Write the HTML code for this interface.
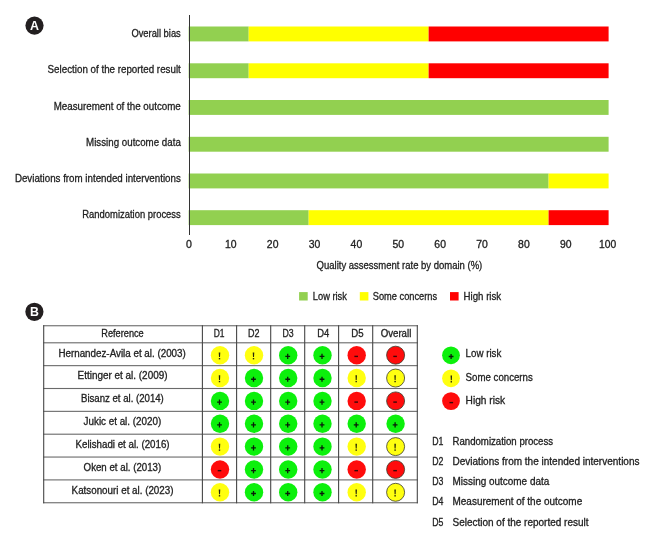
<!DOCTYPE html>
<html><head><meta charset="utf-8"><title>Risk of bias</title>
<style>html,body{margin:0;padding:0;background:#fff}svg{display:block;will-change:transform}text{font-family:"Liberation Sans",sans-serif}</style>
</head><body>
<svg width="651" height="535" viewBox="0 0 651 535">
<rect width="651" height="535" fill="#fff"/>
<rect x="188.7" y="26.5" width="60.00" height="14.9" fill="#92d050"/>
<rect x="248.70" y="26.5" width="179.93" height="14.9" fill="#ffff00"/>
<rect x="428.63" y="26.5" width="179.97" height="14.9" fill="#ff0000"/>
<text x="131.40" y="37.00" font-size="10.9" text-anchor="start" textLength="49.40" lengthAdjust="spacingAndGlyphs" fill="#222" stroke="#222" stroke-width="0.3">Overall bias</text>
<rect x="188.7" y="63.3" width="60.00" height="14.9" fill="#92d050"/>
<rect x="248.70" y="63.3" width="179.93" height="14.9" fill="#ffff00"/>
<rect x="428.63" y="63.3" width="179.97" height="14.9" fill="#ff0000"/>
<text x="47.60" y="73.40" font-size="10.9" text-anchor="start" textLength="133.20" lengthAdjust="spacingAndGlyphs" fill="#222" stroke="#222" stroke-width="0.3">Selection of the reported result</text>
<rect x="188.7" y="100.0" width="419.90" height="14.9" fill="#92d050"/>
<text x="53.70" y="109.70" font-size="10.9" text-anchor="start" textLength="127.10" lengthAdjust="spacingAndGlyphs" fill="#222" stroke="#222" stroke-width="0.3">Measurement of the outcome</text>
<rect x="188.7" y="136.8" width="419.90" height="14.9" fill="#92d050"/>
<text x="86.10" y="145.90" font-size="10.9" text-anchor="start" textLength="94.70" lengthAdjust="spacingAndGlyphs" fill="#222" stroke="#222" stroke-width="0.3">Missing outcome data</text>
<rect x="188.7" y="173.5" width="359.90" height="14.9" fill="#92d050"/>
<rect x="548.60" y="173.5" width="60.00" height="14.9" fill="#ffff00"/>
<text x="14.90" y="182.20" font-size="10.9" text-anchor="start" textLength="165.90" lengthAdjust="spacingAndGlyphs" fill="#222" stroke="#222" stroke-width="0.3">Deviations from intended interventions</text>
<rect x="188.7" y="210.2" width="119.97" height="14.9" fill="#92d050"/>
<rect x="308.67" y="210.2" width="239.93" height="14.9" fill="#ffff00"/>
<rect x="548.60" y="210.2" width="60.00" height="14.9" fill="#ff0000"/>
<text x="82.30" y="218.30" font-size="10.9" text-anchor="start" textLength="98.50" lengthAdjust="spacingAndGlyphs" fill="#222" stroke="#222" stroke-width="0.3">Randomization process</text>
<rect x="189" y="15" width="1" height="220" fill="#333"/>
<text x="188.95" y="248.00" font-size="10.2" text-anchor="middle" textLength="5.90" lengthAdjust="spacingAndGlyphs" fill="#222" stroke="#222" stroke-width="0.3">0</text>
<text x="230.82" y="248.00" font-size="10.2" text-anchor="middle" textLength="11.60" lengthAdjust="spacingAndGlyphs" fill="#222" stroke="#222" stroke-width="0.3">10</text>
<text x="272.69" y="248.00" font-size="10.2" text-anchor="middle" textLength="11.60" lengthAdjust="spacingAndGlyphs" fill="#222" stroke="#222" stroke-width="0.3">20</text>
<text x="314.56" y="248.00" font-size="10.2" text-anchor="middle" textLength="11.60" lengthAdjust="spacingAndGlyphs" fill="#222" stroke="#222" stroke-width="0.3">30</text>
<text x="356.43" y="248.00" font-size="10.2" text-anchor="middle" textLength="11.60" lengthAdjust="spacingAndGlyphs" fill="#222" stroke="#222" stroke-width="0.3">40</text>
<text x="398.30" y="248.00" font-size="10.2" text-anchor="middle" textLength="11.60" lengthAdjust="spacingAndGlyphs" fill="#222" stroke="#222" stroke-width="0.3">50</text>
<text x="440.17" y="248.00" font-size="10.2" text-anchor="middle" textLength="11.60" lengthAdjust="spacingAndGlyphs" fill="#222" stroke="#222" stroke-width="0.3">60</text>
<text x="482.04" y="248.00" font-size="10.2" text-anchor="middle" textLength="11.60" lengthAdjust="spacingAndGlyphs" fill="#222" stroke="#222" stroke-width="0.3">70</text>
<text x="523.91" y="248.00" font-size="10.2" text-anchor="middle" textLength="11.60" lengthAdjust="spacingAndGlyphs" fill="#222" stroke="#222" stroke-width="0.3">80</text>
<text x="565.78" y="248.00" font-size="10.2" text-anchor="middle" textLength="11.60" lengthAdjust="spacingAndGlyphs" fill="#222" stroke="#222" stroke-width="0.3">90</text>
<text x="607.65" y="248.00" font-size="10.2" text-anchor="middle" textLength="17.20" lengthAdjust="spacingAndGlyphs" fill="#222" stroke="#222" stroke-width="0.3">100</text>
<text x="316.60" y="269.00" font-size="10.5" text-anchor="start" textLength="165.70" lengthAdjust="spacingAndGlyphs" fill="#222" stroke="#222" stroke-width="0.3">Quality assessment rate by domain (%)</text>
<rect x="299.1" y="292.1" width="8.6" height="8.4" fill="#92d050"/>
<text x="312.85" y="299.70" font-size="10.3" text-anchor="start" textLength="34.05" lengthAdjust="spacingAndGlyphs" fill="#222" stroke="#222" stroke-width="0.3">Low risk</text>
<rect x="359.8" y="292.1" width="8.6" height="8.4" fill="#ffff00"/>
<text x="372.80" y="299.70" font-size="10.3" text-anchor="start" textLength="64.30" lengthAdjust="spacingAndGlyphs" fill="#222" stroke="#222" stroke-width="0.3">Some concerns</text>
<rect x="450.0" y="292.1" width="8.6" height="8.4" fill="#ff0000"/>
<text x="463.60" y="299.70" font-size="10.3" text-anchor="start" textLength="37.60" lengthAdjust="spacingAndGlyphs" fill="#222" stroke="#222" stroke-width="0.3">High risk</text>
<circle cx="34.5" cy="25.6" r="9.1" fill="#231f20"/>
<text x="34.5" y="29.900000000000002" font-size="12.5" font-weight="bold" text-anchor="middle" textLength="9.0" lengthAdjust="spacingAndGlyphs" fill="#fff">A</text>
<circle cx="34.4" cy="311.8" r="9.1" fill="#231f20"/>
<text x="34.4" y="316.3" font-size="13.2" font-weight="bold" text-anchor="middle" textLength="8.9" lengthAdjust="spacingAndGlyphs" fill="#fff">B</text>
<rect x="43.15" y="325.20" width="374.70" height="1.1" fill="#6a6a6a"/>
<rect x="43.15" y="342.25" width="374.70" height="1.1" fill="#6a6a6a"/>
<rect x="43.15" y="365.10" width="374.70" height="1.1" fill="#6a6a6a"/>
<rect x="43.15" y="387.95" width="374.70" height="1.1" fill="#6a6a6a"/>
<rect x="43.15" y="410.80" width="374.70" height="1.1" fill="#6a6a6a"/>
<rect x="43.15" y="433.65" width="374.70" height="1.1" fill="#6a6a6a"/>
<rect x="43.15" y="456.50" width="374.70" height="1.1" fill="#6a6a6a"/>
<rect x="43.15" y="479.35" width="374.70" height="1.1" fill="#6a6a6a"/>
<rect x="43.15" y="502.20" width="374.70" height="1.1" fill="#6a6a6a"/>
<rect x="43.15" y="325.20" width="1.1" height="178.10" fill="#474747"/>
<rect x="201.85" y="325.20" width="1.1" height="178.10" fill="#474747"/>
<rect x="236.05" y="325.20" width="1.1" height="178.10" fill="#474747"/>
<rect x="270.15" y="325.20" width="1.1" height="178.10" fill="#474747"/>
<rect x="304.15" y="325.20" width="1.1" height="178.10" fill="#474747"/>
<rect x="338.05" y="325.20" width="1.1" height="178.10" fill="#474747"/>
<rect x="372.15" y="325.20" width="1.1" height="178.10" fill="#474747"/>
<rect x="416.75" y="325.20" width="1.1" height="178.10" fill="#474747"/>
<text x="101.30" y="336.80" font-size="10.0" text-anchor="start" textLength="42.40" lengthAdjust="spacingAndGlyphs" fill="#222" stroke="#222" stroke-width="0.3">Reference</text>
<text x="213.70" y="336.80" font-size="10.0" text-anchor="start" textLength="10.80" lengthAdjust="spacingAndGlyphs" fill="#222" stroke="#222" stroke-width="0.3">D1</text>
<text x="247.90" y="336.80" font-size="10.0" text-anchor="start" textLength="11.50" lengthAdjust="spacingAndGlyphs" fill="#222" stroke="#222" stroke-width="0.3">D2</text>
<text x="282.50" y="336.80" font-size="10.0" text-anchor="start" textLength="11.20" lengthAdjust="spacingAndGlyphs" fill="#222" stroke="#222" stroke-width="0.3">D3</text>
<text x="317.15" y="336.80" font-size="10.0" text-anchor="start" textLength="12.05" lengthAdjust="spacingAndGlyphs" fill="#222" stroke="#222" stroke-width="0.3">D4</text>
<text x="351.30" y="336.80" font-size="10.0" text-anchor="start" textLength="12.30" lengthAdjust="spacingAndGlyphs" fill="#222" stroke="#222" stroke-width="0.3">D5</text>
<text x="380.70" y="336.80" font-size="10.0" text-anchor="start" textLength="30.60" lengthAdjust="spacingAndGlyphs" fill="#222" stroke="#222" stroke-width="0.3">Overall</text>
<text x="58.40" y="356.60" font-size="10.0" text-anchor="start" textLength="127.40" lengthAdjust="spacingAndGlyphs" fill="#222" stroke="#222" stroke-width="0.3">Hernandez-Avila et al. (2003)</text>
<circle cx="220.00" cy="355.20" r="9.2" fill="#ffff10"/>
<path d="M218.75 352.40h1.5l-0.25 4.7h-1z" fill="#26260a"/><rect x="218.80" y="358.00" width="1.4" height="1.4" fill="#26260a"/>
<circle cx="254.00" cy="355.20" r="9.2" fill="#ffff10"/>
<path d="M252.75 352.40h1.5l-0.25 4.7h-1z" fill="#26260a"/><rect x="252.80" y="358.00" width="1.4" height="1.4" fill="#26260a"/>
<circle cx="288.20" cy="355.20" r="9.2" fill="#0cf00c"/>
<path d="M285.30 356.40h4.8M287.70 353.80v5.2" stroke="#0a1a0a" stroke-width="1.3" fill="none"/>
<circle cx="322.50" cy="355.20" r="9.2" fill="#0cf00c"/>
<path d="M319.60 356.40h4.8M322.00 353.80v5.2" stroke="#0a1a0a" stroke-width="1.3" fill="none"/>
<circle cx="356.70" cy="355.20" r="9.2" fill="#ff0c0c"/>
<path d="M354.40 356.40h3.6" stroke="#3a0808" stroke-width="1.4" fill="none"/>
<circle cx="395.60" cy="355.20" r="9.0" fill="#ff0c0c" stroke="#3a3a2a" stroke-width="0.8"/>
<path d="M393.30 356.40h3.6" stroke="#3a0808" stroke-width="1.4" fill="none"/>
<text x="77.60" y="379.45" font-size="10.0" text-anchor="start" textLength="89.90" lengthAdjust="spacingAndGlyphs" fill="#222" stroke="#222" stroke-width="0.3">Ettinger et al. (2009)</text>
<circle cx="220.00" cy="378.05" r="9.2" fill="#ffff10"/>
<path d="M218.75 375.25h1.5l-0.25 4.7h-1z" fill="#26260a"/><rect x="218.80" y="380.85" width="1.4" height="1.4" fill="#26260a"/>
<circle cx="254.00" cy="378.05" r="9.2" fill="#0cf00c"/>
<path d="M251.10 379.25h4.8M253.50 376.65v5.2" stroke="#0a1a0a" stroke-width="1.3" fill="none"/>
<circle cx="288.20" cy="378.05" r="9.2" fill="#0cf00c"/>
<path d="M285.30 379.25h4.8M287.70 376.65v5.2" stroke="#0a1a0a" stroke-width="1.3" fill="none"/>
<circle cx="322.50" cy="378.05" r="9.2" fill="#0cf00c"/>
<path d="M319.60 379.25h4.8M322.00 376.65v5.2" stroke="#0a1a0a" stroke-width="1.3" fill="none"/>
<circle cx="356.70" cy="378.05" r="9.2" fill="#ffff10"/>
<path d="M355.45 375.25h1.5l-0.25 4.7h-1z" fill="#26260a"/><rect x="355.50" y="380.85" width="1.4" height="1.4" fill="#26260a"/>
<circle cx="395.60" cy="378.05" r="9.0" fill="#ffff10" stroke="#3a3a2a" stroke-width="0.8"/>
<path d="M394.35 375.25h1.5l-0.25 4.7h-1z" fill="#26260a"/><rect x="394.40" y="380.85" width="1.4" height="1.4" fill="#26260a"/>
<text x="81.00" y="402.30" font-size="10.0" text-anchor="start" textLength="82.80" lengthAdjust="spacingAndGlyphs" fill="#222" stroke="#222" stroke-width="0.3">Bisanz et al. (2014)</text>
<circle cx="220.00" cy="400.90" r="9.2" fill="#0cf00c"/>
<path d="M217.10 402.10h4.8M219.50 399.50v5.2" stroke="#0a1a0a" stroke-width="1.3" fill="none"/>
<circle cx="254.00" cy="400.90" r="9.2" fill="#0cf00c"/>
<path d="M251.10 402.10h4.8M253.50 399.50v5.2" stroke="#0a1a0a" stroke-width="1.3" fill="none"/>
<circle cx="288.20" cy="400.90" r="9.2" fill="#0cf00c"/>
<path d="M285.30 402.10h4.8M287.70 399.50v5.2" stroke="#0a1a0a" stroke-width="1.3" fill="none"/>
<circle cx="322.50" cy="400.90" r="9.2" fill="#0cf00c"/>
<path d="M319.60 402.10h4.8M322.00 399.50v5.2" stroke="#0a1a0a" stroke-width="1.3" fill="none"/>
<circle cx="356.70" cy="400.90" r="9.2" fill="#ff0c0c"/>
<path d="M354.40 402.10h3.6" stroke="#3a0808" stroke-width="1.4" fill="none"/>
<circle cx="395.60" cy="400.90" r="9.0" fill="#ff0c0c" stroke="#3a3a2a" stroke-width="0.8"/>
<path d="M393.30 402.10h3.6" stroke="#3a0808" stroke-width="1.4" fill="none"/>
<text x="83.60" y="425.15" font-size="10.0" text-anchor="start" textLength="77.60" lengthAdjust="spacingAndGlyphs" fill="#222" stroke="#222" stroke-width="0.3">Jukic et al. (2020)</text>
<circle cx="220.00" cy="423.75" r="9.2" fill="#0cf00c"/>
<path d="M217.10 424.95h4.8M219.50 422.35v5.2" stroke="#0a1a0a" stroke-width="1.3" fill="none"/>
<circle cx="254.00" cy="423.75" r="9.2" fill="#0cf00c"/>
<path d="M251.10 424.95h4.8M253.50 422.35v5.2" stroke="#0a1a0a" stroke-width="1.3" fill="none"/>
<circle cx="288.20" cy="423.75" r="9.2" fill="#0cf00c"/>
<path d="M285.30 424.95h4.8M287.70 422.35v5.2" stroke="#0a1a0a" stroke-width="1.3" fill="none"/>
<circle cx="322.50" cy="423.75" r="9.2" fill="#0cf00c"/>
<path d="M319.60 424.95h4.8M322.00 422.35v5.2" stroke="#0a1a0a" stroke-width="1.3" fill="none"/>
<circle cx="356.70" cy="423.75" r="9.2" fill="#0cf00c"/>
<path d="M353.80 424.95h4.8M356.20 422.35v5.2" stroke="#0a1a0a" stroke-width="1.3" fill="none"/>
<circle cx="395.60" cy="423.75" r="9.2" fill="#0cf00c"/>
<path d="M392.70 424.95h4.8M395.10 422.35v5.2" stroke="#0a1a0a" stroke-width="1.3" fill="none"/>
<text x="75.50" y="448.00" font-size="10.0" text-anchor="start" textLength="94.10" lengthAdjust="spacingAndGlyphs" fill="#222" stroke="#222" stroke-width="0.3">Kelishadi et al. (2016)</text>
<circle cx="220.00" cy="446.60" r="9.2" fill="#ffff10"/>
<path d="M218.75 443.80h1.5l-0.25 4.7h-1z" fill="#26260a"/><rect x="218.80" y="449.40" width="1.4" height="1.4" fill="#26260a"/>
<circle cx="254.00" cy="446.60" r="9.2" fill="#0cf00c"/>
<path d="M251.10 447.80h4.8M253.50 445.20v5.2" stroke="#0a1a0a" stroke-width="1.3" fill="none"/>
<circle cx="288.20" cy="446.60" r="9.2" fill="#0cf00c"/>
<path d="M285.30 447.80h4.8M287.70 445.20v5.2" stroke="#0a1a0a" stroke-width="1.3" fill="none"/>
<circle cx="322.50" cy="446.60" r="9.2" fill="#0cf00c"/>
<path d="M319.60 447.80h4.8M322.00 445.20v5.2" stroke="#0a1a0a" stroke-width="1.3" fill="none"/>
<circle cx="356.70" cy="446.60" r="9.2" fill="#ffff10"/>
<path d="M355.45 443.80h1.5l-0.25 4.7h-1z" fill="#26260a"/><rect x="355.50" y="449.40" width="1.4" height="1.4" fill="#26260a"/>
<circle cx="395.60" cy="446.60" r="9.0" fill="#ffff10" stroke="#3a3a2a" stroke-width="0.8"/>
<path d="M394.35 443.80h1.5l-0.25 4.7h-1z" fill="#26260a"/><rect x="394.40" y="449.40" width="1.4" height="1.4" fill="#26260a"/>
<text x="83.60" y="470.85" font-size="10.0" text-anchor="start" textLength="77.60" lengthAdjust="spacingAndGlyphs" fill="#222" stroke="#222" stroke-width="0.3">Oken et al. (2013)</text>
<circle cx="220.00" cy="469.45" r="9.2" fill="#ff0c0c"/>
<path d="M217.70 470.65h3.6" stroke="#3a0808" stroke-width="1.4" fill="none"/>
<circle cx="254.00" cy="469.45" r="9.2" fill="#0cf00c"/>
<path d="M251.10 470.65h4.8M253.50 468.05v5.2" stroke="#0a1a0a" stroke-width="1.3" fill="none"/>
<circle cx="288.20" cy="469.45" r="9.2" fill="#0cf00c"/>
<path d="M285.30 470.65h4.8M287.70 468.05v5.2" stroke="#0a1a0a" stroke-width="1.3" fill="none"/>
<circle cx="322.50" cy="469.45" r="9.2" fill="#0cf00c"/>
<path d="M319.60 470.65h4.8M322.00 468.05v5.2" stroke="#0a1a0a" stroke-width="1.3" fill="none"/>
<circle cx="356.70" cy="469.45" r="9.2" fill="#ff0c0c"/>
<path d="M354.40 470.65h3.6" stroke="#3a0808" stroke-width="1.4" fill="none"/>
<circle cx="395.60" cy="469.45" r="9.0" fill="#ff0c0c" stroke="#3a3a2a" stroke-width="0.8"/>
<path d="M393.30 470.65h3.6" stroke="#3a0808" stroke-width="1.4" fill="none"/>
<text x="71.60" y="493.70" font-size="10.0" text-anchor="start" textLength="101.90" lengthAdjust="spacingAndGlyphs" fill="#222" stroke="#222" stroke-width="0.3">Katsonouri et al. (2023)</text>
<circle cx="220.00" cy="492.30" r="9.2" fill="#ffff10"/>
<path d="M218.75 489.50h1.5l-0.25 4.7h-1z" fill="#26260a"/><rect x="218.80" y="495.10" width="1.4" height="1.4" fill="#26260a"/>
<circle cx="254.00" cy="492.30" r="9.2" fill="#0cf00c"/>
<path d="M251.10 493.50h4.8M253.50 490.90v5.2" stroke="#0a1a0a" stroke-width="1.3" fill="none"/>
<circle cx="288.20" cy="492.30" r="9.2" fill="#0cf00c"/>
<path d="M285.30 493.50h4.8M287.70 490.90v5.2" stroke="#0a1a0a" stroke-width="1.3" fill="none"/>
<circle cx="322.50" cy="492.30" r="9.2" fill="#0cf00c"/>
<path d="M319.60 493.50h4.8M322.00 490.90v5.2" stroke="#0a1a0a" stroke-width="1.3" fill="none"/>
<circle cx="356.70" cy="492.30" r="9.2" fill="#ffff10"/>
<path d="M355.45 489.50h1.5l-0.25 4.7h-1z" fill="#26260a"/><rect x="355.50" y="495.10" width="1.4" height="1.4" fill="#26260a"/>
<circle cx="395.60" cy="492.30" r="9.0" fill="#ffff10" stroke="#3a3a2a" stroke-width="0.8"/>
<path d="M394.35 489.50h1.5l-0.25 4.7h-1z" fill="#26260a"/><rect x="394.40" y="495.10" width="1.4" height="1.4" fill="#26260a"/>
<circle cx="451.00" cy="355.30" r="8.9" fill="#0cf00c"/>
<path d="M448.70 356.50h4.8M451.10 353.90v5.2" stroke="#0a1a0a" stroke-width="1.3" fill="none"/>
<text x="465.60" y="356.60" font-size="10.9" text-anchor="start" textLength="35.70" lengthAdjust="spacingAndGlyphs" fill="#222" stroke="#222" stroke-width="0.3">Low risk</text>
<circle cx="451.00" cy="378.30" r="8.9" fill="#ffff10"/>
<path d="M450.55 375.50h1.5l-0.25 4.7h-1z" fill="#26260a"/><rect x="450.60" y="381.10" width="1.4" height="1.4" fill="#26260a"/>
<text x="465.60" y="380.50" font-size="10.9" text-anchor="start" textLength="67.20" lengthAdjust="spacingAndGlyphs" fill="#222" stroke="#222" stroke-width="0.3">Some concerns</text>
<circle cx="451.00" cy="401.10" r="8.9" fill="#ff0c0c"/>
<path d="M449.50 402.60h3.6" stroke="#3a0808" stroke-width="1.4" fill="none"/>
<text x="465.60" y="404.10" font-size="10.9" text-anchor="start" textLength="39.50" lengthAdjust="spacingAndGlyphs" fill="#222" stroke="#222" stroke-width="0.3">High risk</text>
<text x="432.30" y="444.70" font-size="10.2" text-anchor="start" textLength="11.20" lengthAdjust="spacingAndGlyphs" fill="#222" stroke="#222" stroke-width="0.3">D1</text>
<text x="452.50" y="444.70" font-size="10.2" text-anchor="start" textLength="100.60" lengthAdjust="spacingAndGlyphs" fill="#222" stroke="#222" stroke-width="0.3">Randomization process</text>
<text x="432.30" y="464.90" font-size="10.2" text-anchor="start" textLength="11.20" lengthAdjust="spacingAndGlyphs" fill="#222" stroke="#222" stroke-width="0.3">D2</text>
<text x="452.50" y="464.90" font-size="10.2" text-anchor="start" textLength="187.00" lengthAdjust="spacingAndGlyphs" fill="#222" stroke="#222" stroke-width="0.3">Deviations from the intended interventions</text>
<text x="432.30" y="485.10" font-size="10.2" text-anchor="start" textLength="11.20" lengthAdjust="spacingAndGlyphs" fill="#222" stroke="#222" stroke-width="0.3">D3</text>
<text x="452.50" y="485.10" font-size="10.2" text-anchor="start" textLength="96.80" lengthAdjust="spacingAndGlyphs" fill="#222" stroke="#222" stroke-width="0.3">Missing outcome data</text>
<text x="432.30" y="505.30" font-size="10.2" text-anchor="start" textLength="11.20" lengthAdjust="spacingAndGlyphs" fill="#222" stroke="#222" stroke-width="0.3">D4</text>
<text x="452.50" y="505.30" font-size="10.2" text-anchor="start" textLength="129.70" lengthAdjust="spacingAndGlyphs" fill="#222" stroke="#222" stroke-width="0.3">Measurement of the outcome</text>
<text x="432.30" y="525.50" font-size="10.2" text-anchor="start" textLength="11.20" lengthAdjust="spacingAndGlyphs" fill="#222" stroke="#222" stroke-width="0.3">D5</text>
<text x="452.50" y="525.50" font-size="10.2" text-anchor="start" textLength="136.00" lengthAdjust="spacingAndGlyphs" fill="#222" stroke="#222" stroke-width="0.3">Selection of the reported result</text>
</svg>
</body></html>
